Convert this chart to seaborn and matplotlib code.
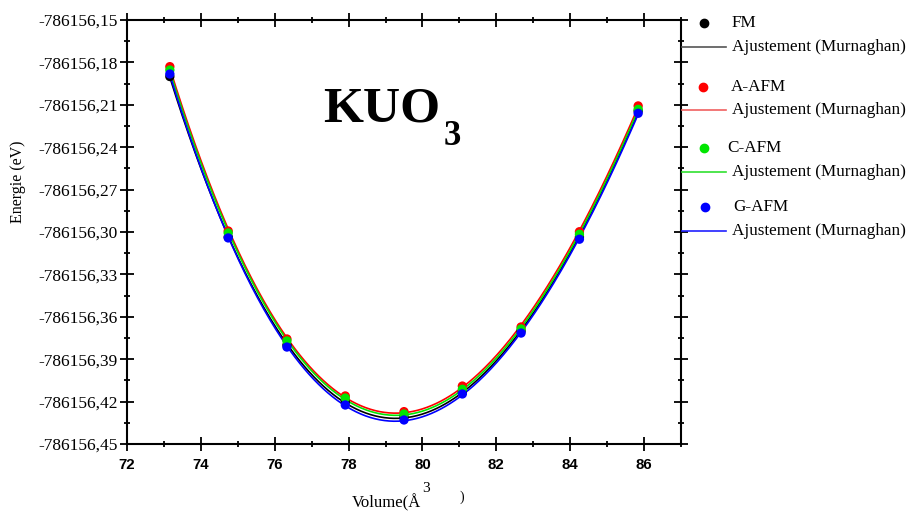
import numpy as np
import pandas as pd
import matplotlib
matplotlib.use("Agg")
import matplotlib.pyplot as plt
from matplotlib.lines import Line2D
from matplotlib.ticker import FixedLocator, FuncFormatter, MultipleLocator
import seaborn as sns

# ---- data ----
volume = [73.16, 74.74, 76.33, 77.91, 79.50, 81.08, 82.67, 84.25, 85.84]
energy_fm = [-786156.1900, -786156.3035, -786156.3800, -786156.4203, -786156.4309,
             -786156.4132, -786156.3700, -786156.3035, -786156.2144]
energy_aafm = [-786156.1830, -786156.2993, -786156.3757, -786156.4160, -786156.4271,
               -786156.4090, -786156.3672, -786156.2998, -786156.2108]
energy_cafm = [-786156.1854, -786156.3007, -786156.3771, -786156.4175, -786156.4288,
               -786156.4113, -786156.3686, -786156.3016, -786156.2132]
energy_gafm = [-786156.1882, -786156.3042, -786156.3814, -786156.4224, -786156.4330,
               -786156.4146, -786156.3715, -786156.3051, -786156.2160]
series_names = ["FM", "A-AFM", "C-AFM", "G-AFM"]
fit_label = "Ajustement (Murnaghan)"
y_ticks = [-786156.15, -786156.18, -786156.21, -786156.24, -786156.27, -786156.30,
           -786156.33, -786156.36, -786156.39, -786156.42, -786156.45]
x_ticks = [72, 74, 76, 78, 80, 82, 84, 86]

colors = {"FM": "#000000", "A-AFM": "#ff0000", "C-AFM": "#00e600", "G-AFM": "#0000ff"}
legend_line_colors = {"FM": "#555555", "A-AFM": "#f06060", "C-AFM": "#30e030", "G-AFM": "#2020ff"}

energies = {"FM": energy_fm, "A-AFM": energy_aafm, "C-AFM": energy_cafm, "G-AFM": energy_gafm}

pts = pd.concat([pd.DataFrame({"V": volume, "E": energies[n], "phase": n}) for n in series_names],
                ignore_index=True)

# smooth fit curve through each series (least squares in V)
fits = []
for n in series_names:
    v = np.asarray(volume)
    e = np.asarray(energies[n])
    vm, em = v.mean(), e.mean()
    coef = np.polyfit(v - vm, e - em, 3)
    vv = np.linspace(v.min(), v.max(), 300)
    fits.append(pd.DataFrame({"V": vv, "E": np.polyval(coef, vv - vm) + em, "phase": n}))
fit = pd.concat(fits, ignore_index=True)

W, H = 908, 512
fig = plt.figure(figsize=(W / 100, H / 100), dpi=100)
L, R, T, B = 127, 681, 20, 444
ax = fig.add_axes([L / W, 1 - B / H, (R - L) / W, (B - T) / H])

sns.lineplot(data=fit, x="V", y="E", hue="phase", hue_order=series_names, palette=colors,
             estimator=None, sort=False, linewidth=1.2, legend=False, ax=ax)
sns.scatterplot(data=pts, x="V", y="E", hue="phase", hue_order=series_names, palette=colors,
                s=45, edgecolor="none", legend=False, ax=ax, zorder=5)

ax.set_xlim(72, 87)
ax.set_ylim(y_ticks[-1], y_ticks[0])
ax.xaxis.set_major_locator(FixedLocator(x_ticks))
ax.xaxis.set_minor_locator(MultipleLocator(1))
ax.yaxis.set_major_locator(FixedLocator(y_ticks))
minor_y = [(a + b) / 2 for a, b in zip(y_ticks[:-1], y_ticks[1:])]
ax.yaxis.set_minor_locator(FixedLocator(minor_y))
ax.yaxis.set_major_formatter(FuncFormatter(lambda v, p: f"{v:.2f}".replace(".", ",")))
ax.xaxis.set_major_formatter(FuncFormatter(lambda v, p: f"{v:.0f}"))

for s in ax.spines.values():
    s.set_linewidth(1.5)
    s.set_color("black")
ax.tick_params(which="both", direction="inout", top=True, right=True, width=1.3, color="black")
ax.tick_params(which="major", length=10.5)
ax.tick_params(which="minor", length=5)
ax.tick_params(axis="y", which="major", pad=1.5, labelsize=12.5)
ax.tick_params(axis="x", which="major", pad=4.5, labelsize=10.8)
for lab in ax.get_yticklabels():
    lab.set_family("Liberation Serif")
for lab in ax.get_xticklabels():
    lab.set_family("Liberation Sans")
    lab.set_fontweight("bold")
ax.set_xlabel("")
ax.set_ylabel("")
ax.set_facecolor("white")

serif = "Liberation Serif"

def fx(x):
    return x / W

def fy(y):
    return 1 - y / H

# axis titles
fig.text(fx(18), fy(182), "Energie (eV)", rotation=90, ha="center", va="center",
         fontsize=11.5, family=serif)
fig.text(fx(352), fy(503), "Volume(Å", ha="left", va="center", fontsize=12, family=serif)
fig.text(fx(422), fy(488), "3", ha="left", va="center", fontsize=11, family=serif)
fig.text(fx(459), fy(497), ")", ha="left", va="center", fontsize=10, family=serif)

# in-plot title
fig.text(fx(323), fy(122), "KUO", ha="left", va="baseline", fontsize=37,
         fontweight="bold", family=serif)
fig.text(fx(444), fy(145), "3", ha="left", va="baseline", fontsize=25,
         fontweight="bold", family=serif)

# legend (drawn at the right, as in the reference)
legend_rows = [
    ("FM", 704, 732, 23, 47),
    ("A-AFM", 703, 731, 87, 110),
    ("C-AFM", 704, 727, 148, 172),
    ("G-AFM", 705, 733, 207, 231),
]
for name, mx, tx, ym, yl in legend_rows:
    fig.add_artist(Line2D([fx(mx)], [fy(ym)], marker="o", markersize=6, linestyle="none",
                          color=colors[name], transform=fig.transFigure))
    fig.text(fx(tx), fy(ym), name, ha="left", va="center", fontsize=12.3, family=serif)
    fig.add_artist(Line2D([fx(682), fx(726)], [fy(yl), fy(yl)], linewidth=1.2,
                          color=legend_line_colors[name], transform=fig.transFigure))
    fig.text(fx(732), fy(yl), fit_label, ha="left", va="center", fontsize=12.3, family=serif)

fig.savefig("out.png", dpi=100, facecolor="white")
